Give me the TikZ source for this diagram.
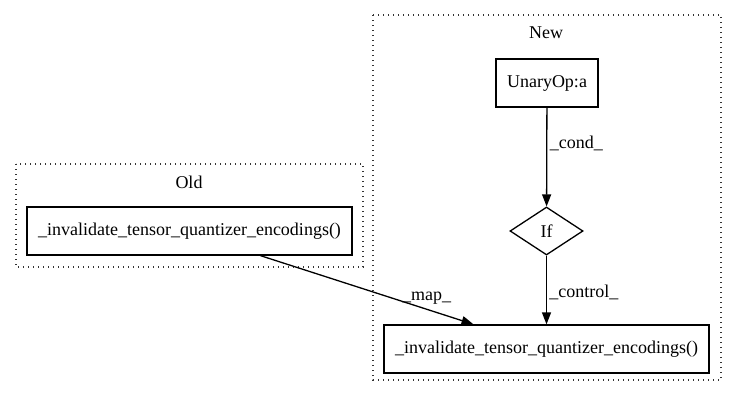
\documentclass[tikz,border=0pt]{standalone}
\usepackage{fontspec}
\setmainfont{Liberation Serif}
\usetikzlibrary{shapes.geometric,arrows.meta}

\begin{document}
\begin{tikzpicture}[x=1pt, y=-1pt,
        every node/.style={font=\fontsize{18}{21}\selectfont},
        cluster/.style={line width=1.3pt, dash pattern=on 1.3pt off 3.7pt, black!80},
        box/.style={draw, line width=1.3pt, minimum height=48pt, inner sep=0pt},
        test/.style={draw, line width=1.3pt, diamond, aspect=1.5, inner sep=0pt, minimum width=73pt, minimum height=48pt},
        flow/.style={line width=1.3pt, -{Triangle[length=12pt, width=9pt]}}]
        \useasboundingbox (0, 0) rectangle (736, 400);
        % clusters
        \draw[cluster] (16, 164) rectangle (363, 267);
        \node (oldtitle) at (189, 182) {Old};
        \draw[cluster] (373, 15) rectangle (721, 380);
        \node (newtitle) at (546, 33) {New};
        % nodes
        \node[box, minimum width=325pt] (oldcall) at (189.5, 231) {\_invalidate\_tensor\_quantizer\_encodings()};
        \node[box, minimum width=102pt] (unary) at (547, 83) {UnaryOp:a};
        \node[test] (if) at (546.5, 231) {If};
        \node[box, minimum width=325pt] (newcall) at (546.5, 349) {\_invalidate\_tensor\_quantizer\_encodings()};
        % edges
        \draw[flow] (unary) -- (if) node[pos=0.36, right=-1pt] {\_cond\_};
        \draw[flow] (if) -- (newcall) node[pos=0.54, right=-1pt] {\_control\_};
        \draw[flow] ([xshift=71pt]oldcall.south) -- ([xshift=-73pt]newcall.north) node[pos=0.78, above=1pt] {\_map\_};
    \end{tikzpicture}
\end{document}
